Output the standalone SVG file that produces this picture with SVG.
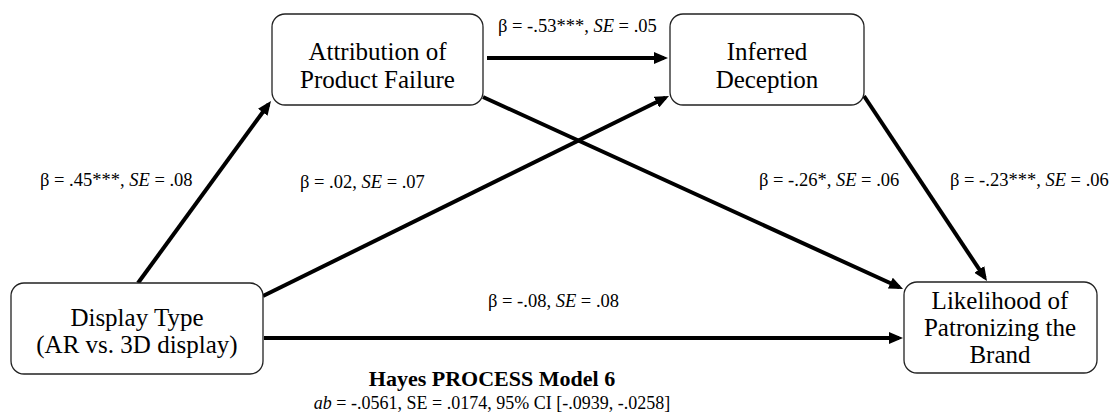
<svg xmlns="http://www.w3.org/2000/svg" width="1117" height="415" viewBox="0 0 1117 415">
<defs>
<marker id="ah" markerUnits="userSpaceOnUse" markerWidth="14" markerHeight="12" refX="10" refY="6" orient="auto">
<path d="M0,0 L14,6 L0,12 z" fill="#000"/>
</marker>
<style>
.box{fill:#fff;stroke:#222;stroke-width:1.3}
.nt{font-family:"Liberation Serif","Times New Roman",serif;font-size:25px;fill:#000;text-anchor:middle}
.lb{font-family:"Liberation Serif","Times New Roman",serif;font-size:18.5px;fill:#000}
.cn{stroke:#000;stroke-width:4;fill:none;marker-end:url(#ah)}
.tt{font-family:"Liberation Serif","Times New Roman",serif;fill:#000;text-anchor:middle}
</style>
</defs>
<rect width="1117" height="415" fill="#fff"/>
<g id="connectors">
<line class="cn" x1="138" y1="283" x2="268.6" y2="104.2"/>
<line class="cn" x1="263" y1="296" x2="665.4" y2="97.8"/>
<line class="cn" x1="487" y1="58" x2="664" y2="58"/>
<line class="cn" x1="483" y1="97" x2="899.4" y2="287.3"/>
<line class="cn" x1="864" y1="96" x2="984.8" y2="277.7"/>
<line class="cn" x1="264" y1="338" x2="899" y2="338"/>
</g>
<g id="attribution">
<rect class="box" x="272" y="14" width="211" height="91" rx="13"/>
<text class="nt" x="377.5" y="60">Attribution of</text>
<text class="nt" x="377.5" y="88">Product Failure</text>
</g>
<g id="inferred">
<rect class="box" x="670" y="14" width="194" height="91" rx="13"/>
<text class="nt" x="767" y="60">Inferred</text>
<text class="nt" x="767" y="88">Deception</text>
</g>
<g id="display">
<rect class="box" x="11" y="283" width="252" height="91" rx="13"/>
<text class="nt" x="137" y="326">Display Type</text>
<text class="nt" x="137" y="353">(AR vs. 3D display)</text>
</g>
<g id="likelihood">
<rect class="box" x="904" y="282" width="193" height="91" rx="13"/>
<text class="nt" x="1000" y="309">Likelihood of</text>
<text class="nt" x="1000" y="336">Patronizing the</text>
<text class="nt" x="1000" y="363">Brand</text>
</g>
<g id="labels">
<text class="lb" x="40" y="186">β = .45***, <tspan font-style="italic">SE</tspan> = .08</text>
<text class="lb" x="300" y="188">β = .02, <tspan font-style="italic">SE</tspan> = .07</text>
<text class="lb" x="498" y="32">β = -.53***, <tspan font-style="italic">SE</tspan> = .05</text>
<text class="lb" x="759" y="186">β = -.26*, <tspan font-style="italic">SE</tspan> = .06</text>
<text class="lb" x="950" y="186">β = -.23***, <tspan font-style="italic">SE</tspan> = .06</text>
<text class="lb" x="488" y="307">β = -.08, <tspan font-style="italic">SE</tspan> = .08</text>
</g>
<g id="summary">
<text class="tt" x="492" y="386" font-size="22" font-weight="bold">Hayes PROCESS Model 6</text>
<text class="tt" x="492" y="409" font-size="18"><tspan font-style="italic">ab</tspan> = -.0561, SE = .0174, 95% CI [-.0939, -.0258]</text>
</g>
</svg>
